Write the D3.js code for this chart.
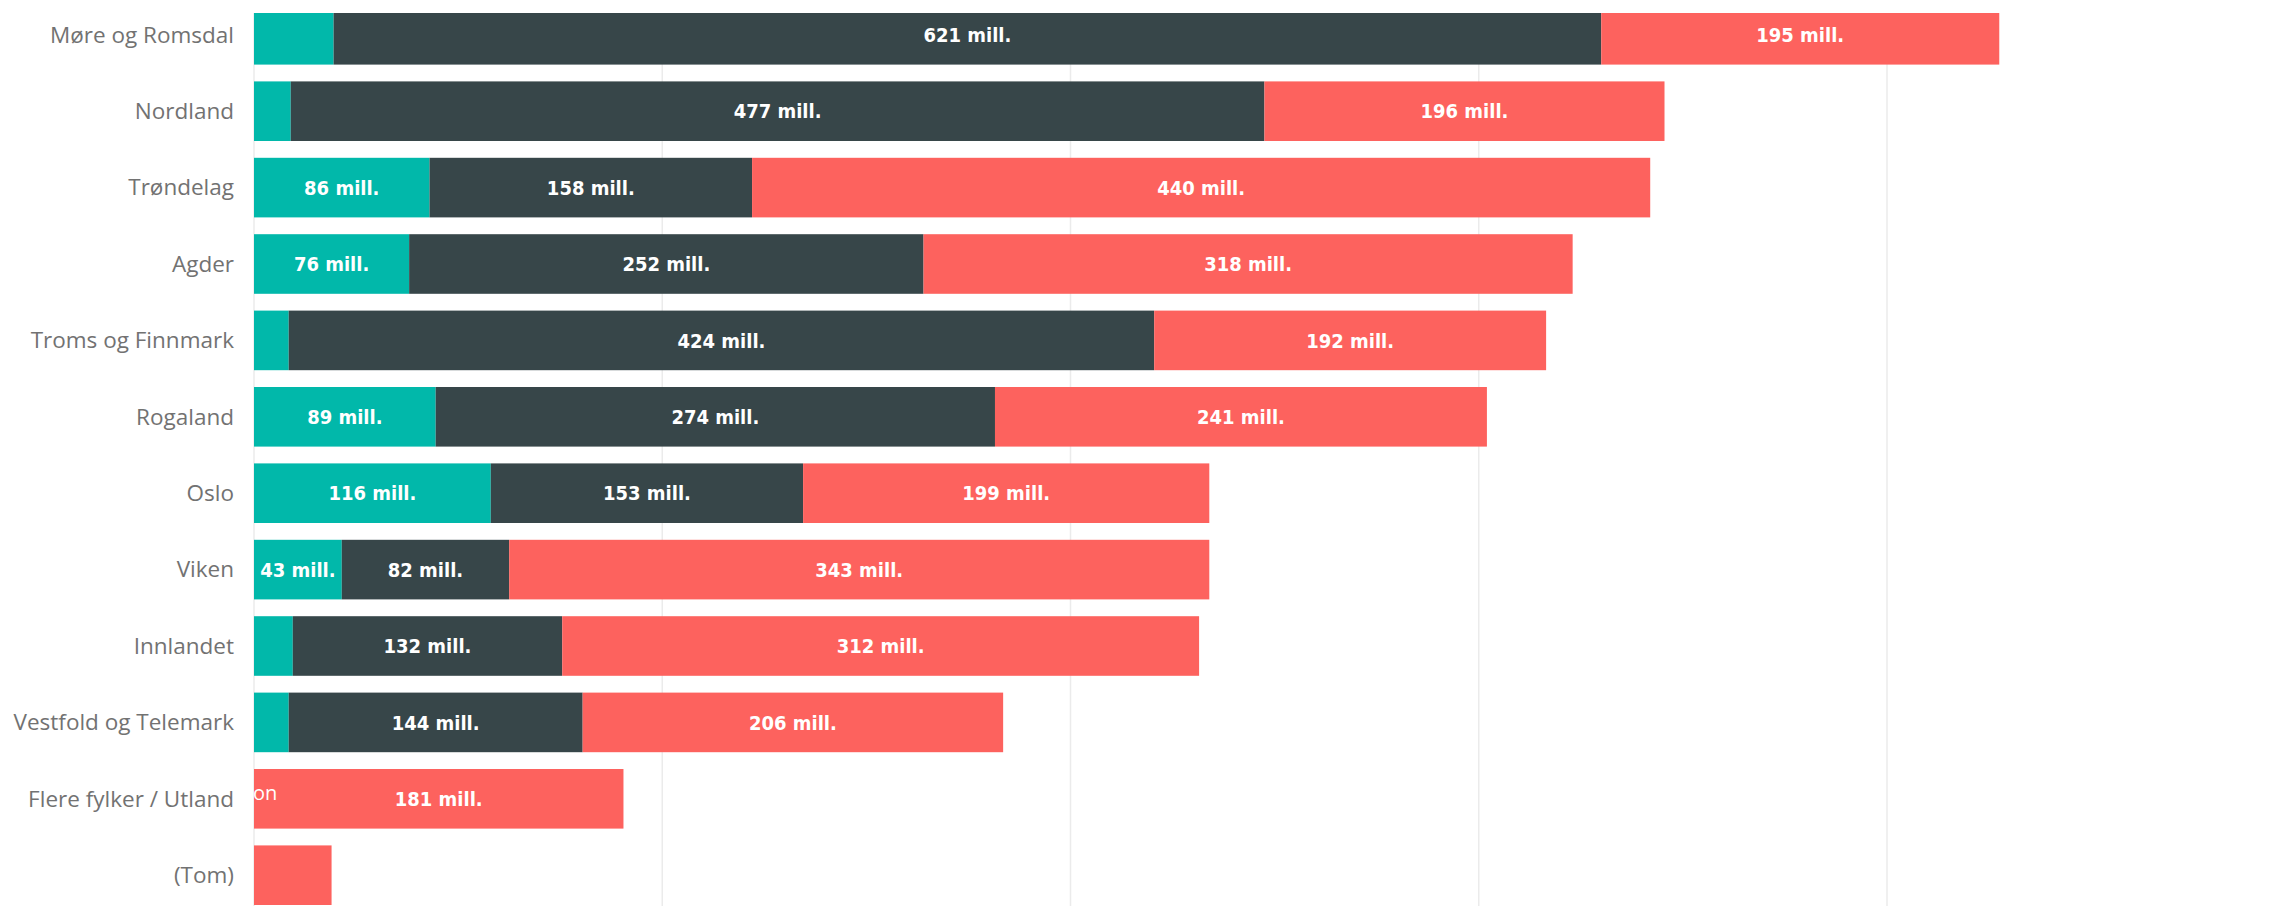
<!DOCTYPE html>
<html>
<head>
<meta charset="utf-8">
<script src="https://cdn.jsdelivr.net/npm/d3@7"></script>
<style>
	body { margin: 0; background: #fff; }
	.cat-label { font-family: "Segoe UI", "Open Sans", sans-serif; font-size: 22.5px; fill: #727272; }
	.val-label { font-family: "Liberation Sans Narrow", "DejaVu Sans Condensed", sans-serif; font-weight: bold; font-size: 20px; fill: #fff; }
</style>
</head>
<body>
<div id="chart"></div>
<script>
var	width = 2278,
	height = 906,
	margin = {top: 5, right: 391, bottom: 1, left: 254};

// fylker, from top to bottom
var categories = ["Møre og Romsdal", "Nordland", "Trøndelag", "Agder", "Troms og Finnmark", "Rogaland",
	"Oslo", "Viken", "Innlandet", "Vestfold og Telemark", "Flere fylker / Utland", "(Tom)"];

// values in mill. kr
var serie1 = [39, 18, 86, 76, 17, 89, 116, 43, 19, 17, 0, 0],
	serie2 = [621, 477, 158, 252, 424, 274, 153, 82, 132, 144, 0, 0],
	serie3 = [195, 196, 440, 318, 192, 241, 199, 343, 312, 206, 181, 38];

var seriesKeys = ["serie1", "serie2", "serie3"],
	colors = ["#01B8AA", "#374649", "#FD625E"],
	gridTicks = [0, 200, 400, 600, 800],
	labelMin = 40; // smaller segments get no data label

var rows = categories.map(function(c, i){
	return {cat: c, serie1: serie1[i], serie2: serie2[i], serie3: serie3[i]};
});

var svg = d3.select('div#chart')
	.append('svg')
	.attr('width', width)
	.attr('height', height)
	.style('display', 'block')
	.style('background', '#fff');

var x = d3.scaleLinear()
	.domain([0, 800])
	.range([margin.left, width - margin.right]);

var y = d3.scaleBand()
	.domain(categories)
	.range([margin.top, height - margin.bottom])
	.paddingInner(0.22)
	.paddingOuter(0);

// the top of the visual is cut off
svg.append("clipPath")
	.attr("id", "plot-clip")
	.append("rect")
	.attr("x", 0)
	.attr("y", 13)
	.attr("width", width)
	.attr("height", height - 13);

var plot = svg.append("g").attr("clip-path", "url(#plot-clip)");

plot.append("g").attr("class", "grid")
	.selectAll("line")
	.data(gridTicks).enter()
	.append("line")
	.attr("x1", function(d){ return x(d); })
	.attr("x2", function(d){ return x(d); })
	.attr("y1", 0)
	.attr("y2", height)
	.attr("stroke", "#ebebeb")
	.attr("stroke-width", 1.5);

var stacked = d3.stack().keys(seriesKeys)(rows);

var layers = plot.selectAll("g.layer")
	.data(stacked).enter()
	.append("g")
	.attr("class", "layer")
	.attr("fill", function(d, i){ return colors[i]; });

layers.selectAll("rect")
	.data(function(d){ return d; }).enter()
	.append("rect")
	.attr("x", function(d){ return x(d[0]); })
	.attr("y", function(d){ return y(d.data.cat); })
	.attr("width", function(d){ return x(d[1]) - x(d[0]); })
	.attr("height", y.bandwidth());

layers.selectAll("text")
	.data(function(d){ return d.filter(function(s){ return s[1] - s[0] >= labelMin; }); }).enter()
	.append("text")
	.attr("class", "val-label")
	.attr("x", function(d){ return (x(d[0]) + x(d[1])) / 2; })
	.attr("y", function(d){ return y(d.data.cat) + y.bandwidth() / 2; })
	.attr("dy", "0.36em")
	.attr("text-anchor", "middle")
	.text(function(d){ return d3.format("d")(d[1] - d[0]) + " mill."; });

svg.append("g").attr("class", "y-labels")
	.selectAll("text")
	.data(categories).enter()
	.append("text")
	.attr("class", "cat-label")
	.attr("x", margin.left - 20)
	.attr("y", function(d){ return y(d) + y.bandwidth() / 2; })
	.attr("dy", "0.35em")
	.attr("text-anchor", "end")
	.text(function(d){ return d; });

// stray bit of white text over the start of the "Flere fylker" bar
svg.append("text")
	.attr("x", margin.left - 1)
	.attr("y", y("Flere fylker / Utland") + 31)
	.attr("fill", "#fff")
	.style("font-family", "'Open Sans', sans-serif")
	.style("font-size", "20px")
	.text("on");
</script>
</body>
</html>
